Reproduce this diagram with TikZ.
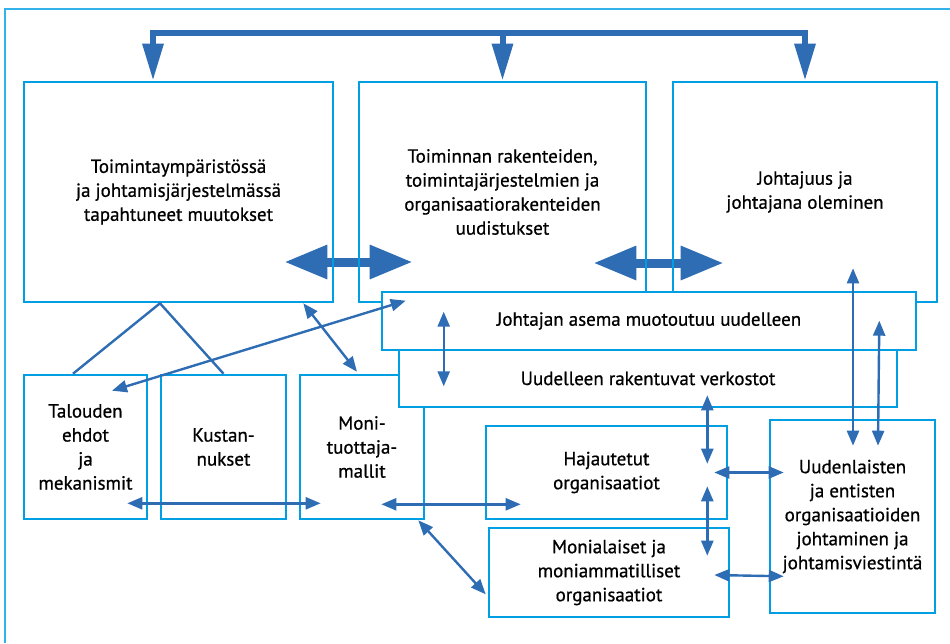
\documentclass[tikz,border=0pt]{standalone}
\usepackage{fontspec}
\setmainfont{PT Sans}[FakeBold=0.7]
\usetikzlibrary{arrows.meta,backgrounds}

\definecolor{boxblue}{RGB}{0,159,227}
\definecolor{arrowblue}{RGB}{46,109,180}

\tikzset{
  box/.style={draw=boxblue,line width=2.6pt,align=center,inner sep=2pt},
  cover/.style={box,fill=white},
  link/.style={draw=arrowblue,line width=2.4pt},
  dbl/.style={link,{Triangle[length=15pt,width=12pt]}-{Triangle[length=15pt,width=12pt]}},
  bus/.style={draw=arrowblue,line width=6pt,line join=miter},
  bigarrow/.style={draw=arrowblue,line width=9pt,
    {Triangle[length=43pt,width=32pt]}-{Triangle[length=43pt,width=32pt]}}
}

\begin{document}
\begin{tikzpicture}[x=1pt,y=-1pt,font=\fontsize{19}{24}\selectfont]
\useasboundingbox (0,0) rectangle (950,643);
\draw[boxblue!80,line width=1.4pt] (950,9) -- (5,9) -- (5,643);

% upper row
\node[box,minimum width=309,minimum height=220] (A) at (178.5,192)
  {Toimintaympäristössä\\ja johtamisjärjestelmässä\\tapahtuneet muutokset};
\node[box,minimum width=287,minimum height=220] (B) at (502.5,192)
  {Toiminnan rakenteiden,\\toimintajärjestelmien ja\\organisaatiorakenteiden\\uudistukset};
\node[box,minimum width=264,minimum height=220] (C) at (805,192)
  {Johtajuus ja\\johtajana oleminen};

% lower row
\node[box,minimum width=123,minimum height=144] (F) at (85.5,447)
  {Talouden\\ehdot\\ja\\mekanismit};
\node[box,minimum width=125,minimum height=144] (G) at (223.5,447)
  {Kustan-\\nukset};
\node[box,minimum width=124,minimum height=144] (H) at (362,447)
  {Moni-\\tuottaja-\\mallit};
\node[box,minimum width=241,minimum height=93] (I) at (606.5,472.5)
  {Hajautetut\\organisaatiot};
\node[box,minimum width=240,minimum height=89] (J) at (609,572.5)
  {Monialaiset ja\\moniammatilliset\\organisaatiot};
\node[box,minimum width=165,minimum height=193] (K) at (852.5,516.5)
  {Uudenlaisten\\ja entisten\\organisaatioiden\\johtaminen ja\\johtamisviestintä};

% middle strips
\node[cover,minimum width=498,minimum height=57] (E) at (648,378.5)
  {Uudelleen rakentuvat verkostot};
\node[cover,minimum width=534,minimum height=58] (D) at (649,321)
  {Johtajan asema muotoutuu uudelleen};

% thick arrows
\begin{scope}[on background layer]
\draw[bigarrow] ([xshift=-50,yshift=-70]A.east) -- ([xshift=55,yshift=-70]B.west);
\draw[bigarrow] ([xshift=-54,yshift=-71]B.east) -- ([xshift=52,yshift=-71]C.west);
\end{scope}

\coordinate (busline) at (500,33);
\draw[bus,{Triangle[length=37pt,width=20pt]}-{Triangle[length=37pt,width=20pt]}]
  ([xshift=-25.5]A.north) -- ([xshift=-25.5]A.north |- busline)
  -- (C.north |- busline) -- (C.north);
\draw[bus,-{Triangle[length=37pt,width=20pt]}] (B.north |- busline) -- (B.north);

% connectors
\draw[link] ([xshift=-12.5]F.north) -- ([xshift=-18.5]A.south) -- (G.north);
\draw[dbl] ([xshift=26.5,yshift=-17]F.north) -- ([xshift=25,yshift=-10]D.north west);
\draw[dbl] ([xshift=-31]A.south east) -- ([xshift=-5,yshift=2]H.north);
\draw[dbl] ([xshift=63,yshift=-21]D.north west) -- ([xshift=46,yshift=22]E.south west);
\draw[dbl] ([xshift=-21,yshift=17]F.south east) -- ([xshift=22,yshift=17]H.south west);
\draw[dbl] ([xshift=-44,yshift=16]H.south east) -- ([xshift=36,yshift=16]I.south west);
\draw[dbl] ([xshift=-7]H.south east) -- ([xshift=-2,yshift=24]J.south west);
\draw[dbl] ([xshift=-191,yshift=13]E.south east) -- ([xshift=-21,yshift=-39]I.north east);
\draw[dbl] ([xshift=-21,yshift=34]I.south east) -- ([xshift=-23,yshift=-29]J.north east);
\draw[dbl] ([xshift=-14]I.east) -- ([xshift=15,yshift=44]K.west);
\draw[dbl] ([xshift=-16,yshift=-2.5]J.east) -- ([xshift=15,yshift=38]K.south west);
\draw[dbl] ([xshift=48,yshift=35]C.south) -- ([xshift=0.5,yshift=-27]K.north);
\draw[dbl] ([xshift=-38,yshift=-30]D.north east) -- ([xshift=25.5,yshift=-27]K.north);
\end{tikzpicture}
\end{document}
